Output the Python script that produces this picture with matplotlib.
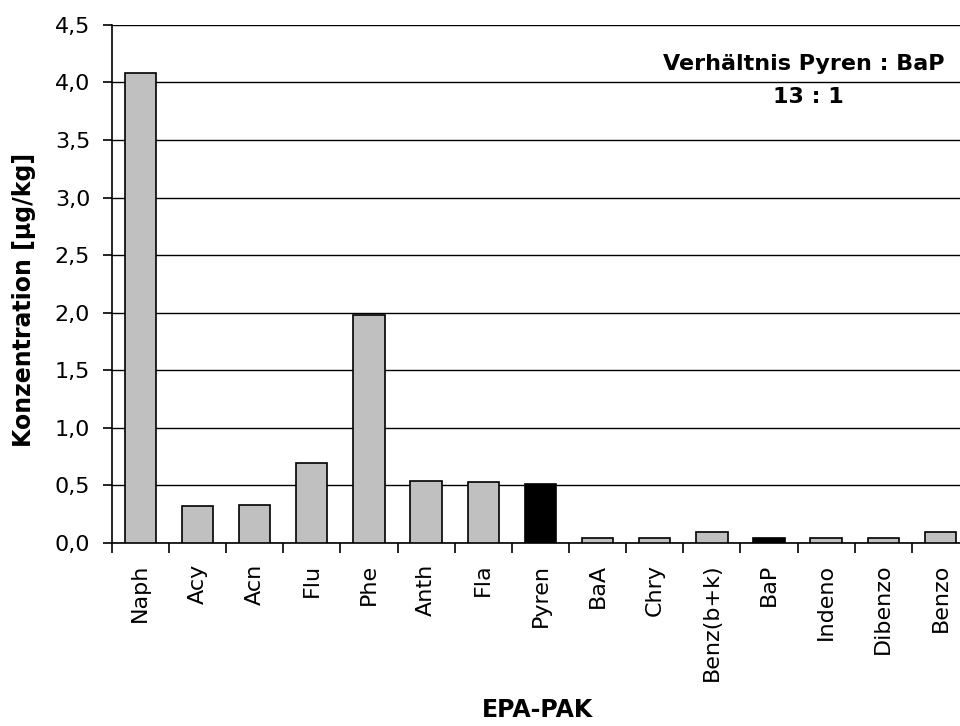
import numpy as np
import matplotlib
matplotlib.use("Agg")
import matplotlib.pyplot as plt
from matplotlib.ticker import FuncFormatter

# Data
categories = ["Naph", "Acy", "Acn", "Flu", "Phe", "Anth", "Fla", "Pyren",
              "BaA", "Chry", "Benz(b+k)", "BaP", "Indeno", "Dibenzo", "Benzo"]
values = [4.08, 0.32, 0.33, 0.69, 1.98, 0.54, 0.53, 0.51,
          0.04, 0.04, 0.09, 0.04, 0.04, 0.04, 0.09]
highlight = ["Pyren", "BaP"]
yticks = [0.0, 0.5, 1.0, 1.5, 2.0, 2.5, 3.0, 3.5, 4.0, 4.5]

plt.rcParams["font.family"] = ["DejaVu Sans"]

fig = plt.figure(figsize=(9.6, 7.26), dpi=100)
# plot area runs past the right edge of the picture, like in the original
ax = fig.add_axes([0.1164, 0.2525, 0.893, 0.7131])

x = np.arange(len(categories))
colors = ["black" if c in highlight else "#c0c0c0" for c in categories]
ax.bar(x, values, width=0.55, color=colors, edgecolor="black", linewidth=1.2, zorder=3)

ax.set_xlim(-0.5, len(categories) - 0.5)
ax.set_ylim(0, 4.5)
ax.set_yticks(yticks)
ax.yaxis.set_major_formatter(FuncFormatter(lambda v, p: ("%.1f" % v).replace(".", ",")))
ax.grid(axis="y", color="black", linewidth=1.0, zorder=0)

ax.set_xticks(x)
ax.set_xticklabels(categories, rotation=90, fontsize=16)
ax.set_xticks(np.arange(len(categories) + 1) - 0.5, minor=True)
ax.tick_params(axis="x", which="major", length=0, pad=15)
ax.tick_params(axis="x", which="minor", length=7, width=1.2, direction="out")
ax.tick_params(axis="y", length=6.5, width=1.2, direction="out", labelsize=16, pad=9)

for s in ["top", "right"]:
    ax.spines[s].set_visible(False)
ax.spines["left"].set_linewidth(1.2)
ax.spines["bottom"].set_linewidth(1.2)

fig.text(24 / 960, 1 - 300 / 726, "Konzentration [µg/kg]", rotation=90,
         ha="center", va="center", fontsize=17, fontweight="bold")
fig.text(538 / 960, 1 - 710 / 726, "EPA-PAK", ha="center", va="center",
         fontsize=17, fontweight="bold")

fig.text(804 / 960, 1 - 64 / 726, "Verhältnis Pyren : BaP",
         ha="center", va="center", fontsize=16, fontweight="bold", zorder=5)
fig.text(808 / 960, 1 - 97 / 726, "13 : 1",
         ha="center", va="center", fontsize=16, fontweight="bold", zorder=5)

fig.savefig("out.png", dpi=100)
